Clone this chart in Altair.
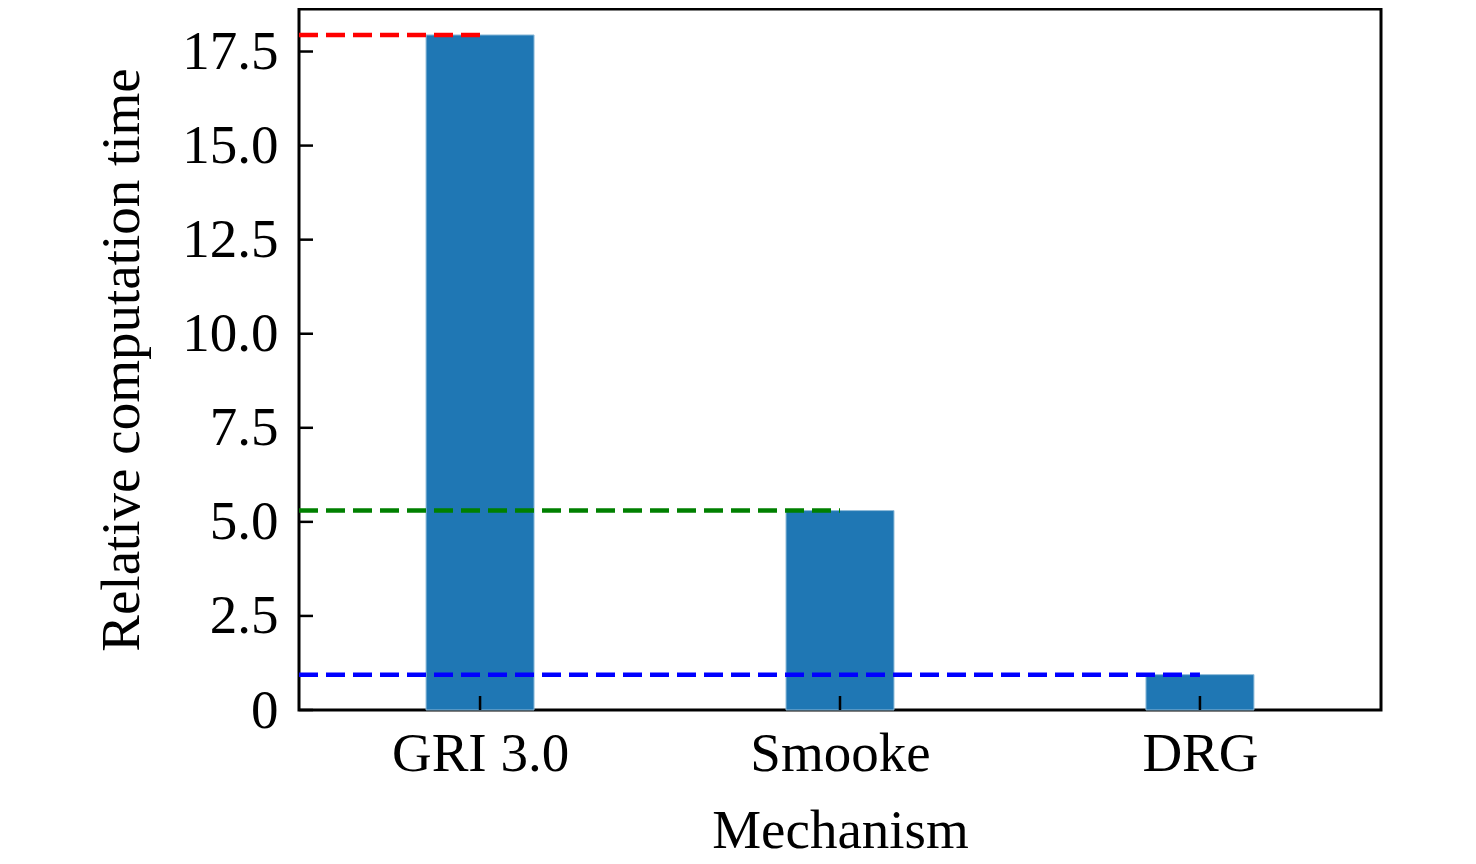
import altair as alt
import pandas as pd

mechanisms = ["GRI 3.0", "Smooke", "DRG"]
rel_time = [17.94, 5.3, 0.94]
line_colors = ["#ff0000", "#008000", "#0000ff"]
y_ticks = [0, 2.5, 5.0, 7.5, 10.0, 12.5, 15.0, 17.5]

x_min, x_max = -0.503, 2.503
bar_w = 0.3
font = "Liberation Serif"

df = pd.DataFrame({
    "pos": list(range(len(mechanisms))),
    "mechanism": mechanisms,
    "time": rel_time,
    "color": line_colors,
})
df = df.assign(
    left=df.pos - bar_w / 2,
    right=df.pos + bar_w / 2,
    start=x_min,
    base=0.0,
)
ticks_df = pd.DataFrame({"v": y_ticks})

label_list = "[" + ",".join(f"'{m}'" for m in mechanisms) + "]"

x_scale = alt.Scale(domain=[x_min, x_max], nice=False, zero=False)
y_scale = alt.Scale(domain=[0, 18.63], nice=False)

x_axis = alt.Axis(
    values=list(range(len(mechanisms))),
    labelExpr=f"{label_list}[datum.value]",
    title="Mechanism",
    grid=False,
    ticks=False,
    tickSize=0,
    domain=False,
    labelPadding=60,
    labelBaseline="alphabetic",
    labelLimit=0,
    labelOverlap=False,
    titleY=137,
    titleBaseline="alphabetic",
)
y_axis = alt.Axis(
    values=y_ticks,
    labelExpr="datum.value == 0 ? '0' : format(datum.value, '.1f')",
    title="Relative computation time",
    grid=False,
    ticks=False,
    tickSize=0,
    domain=False,
    labelPadding=21,
    labelOverlap=False,
    titleX=-161,
    titleBaseline="alphabetic",
)

bars = alt.Chart(df).mark_bar(
    color="#1f77b4",
    stroke="#8fbbd9",
    strokeWidth=1,
).encode(
    x=alt.X("left:Q", scale=x_scale, axis=x_axis),
    x2="right:Q",
    y=alt.Y("time:Q", scale=y_scale, axis=y_axis),
    y2="base:Q",
)

lines = alt.Chart(df).mark_rule(
    strokeDash=[19, 8],
    strokeWidth=4.5,
).encode(
    x=alt.X("start:Q", scale=x_scale, axis=x_axis),
    x2="pos:Q",
    y=alt.Y("time:Q", scale=y_scale, axis=y_axis),
    color=alt.Color("color:N", scale=None),
)

y_tick_marks = alt.Chart(ticks_df).mark_rule(color="black", strokeWidth=2.5).encode(
    y=alt.Y("v:Q", scale=y_scale, axis=y_axis),
    x=alt.value(0),
    x2=alt.value(14),
)

x_tick_marks = alt.Chart(df).mark_rule(color="black", strokeWidth=2.5).encode(
    x=alt.X("pos:Q", scale=x_scale, axis=x_axis),
    y=alt.value(701),
    y2=alt.value(687),
)

chart = alt.layer(bars, lines, y_tick_marks, x_tick_marks).properties(
    width=1082,
    height=701,
    autosize=alt.AutoSizeParams(type="none"),
    padding={"left": 291, "top": 1, "right": 87, "bottom": 145},
).configure_view(
    stroke="black",
    strokeWidth=3,
).configure_axis(
    labelFont=font,
    titleFont=font,
    labelFontSize=55,
    titleFontSize=55,
    labelColor="black",
    titleColor="black",
    titleFontWeight="normal",
)

chart.save("out.html", embed_options={"renderer": "svg", "actions": False})
